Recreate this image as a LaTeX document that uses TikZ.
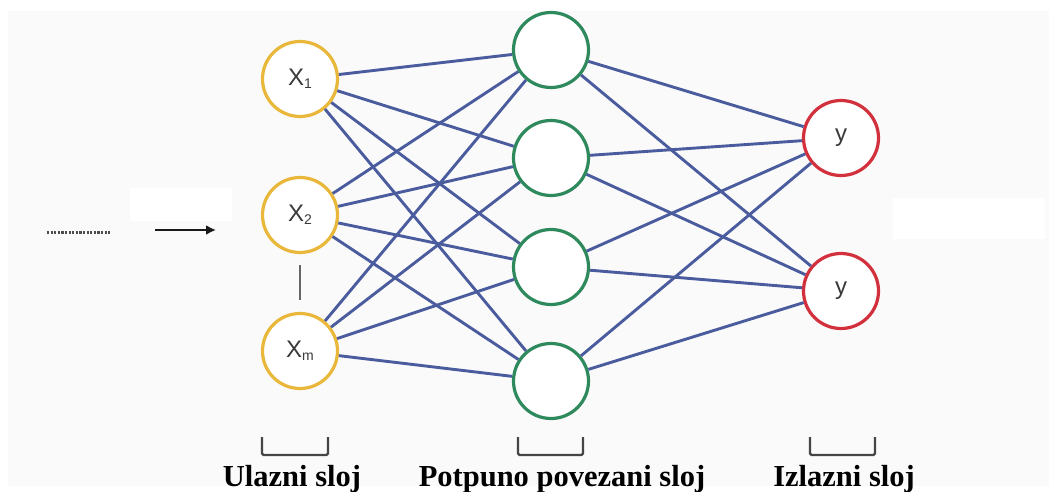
\documentclass[tikz,border=0pt]{standalone}
\usepackage{fontspec}
\setmainfont{Liberation Serif}
\newfontfamily\nodefont{Liberation Sans}
\usetikzlibrary{arrows.meta}
\definecolor{panel}{HTML}{FAFAFA}
\definecolor{gold}{HTML}{E9B83A}
\definecolor{grn}{HTML}{2E8A5C}
\definecolor{rd}{HTML}{D2303C}
\definecolor{edgeblue}{HTML}{4A5C9E}
\definecolor{txt}{HTML}{3A3A3A}
\definecolor{brk}{HTML}{454545}
\newcommand{\subs}[1]{\raisebox{-3pt}{\fontsize{14}{14}\selectfont #1}}
\begin{document}
\begin{tikzpicture}[x=1pt,y=-1pt,
  neuron/.style={circle, draw, line width=3.2pt, fill=white, minimum size=75pt, inner sep=0pt,
    font=\nodefont\fontsize{24}{24}\selectfont, text=txt},
  innode/.style={neuron, draw=gold},
  hidnode/.style={neuron, draw=grn},
  outnode/.style={neuron, draw=rd},
  conn/.style={draw=edgeblue, line width=2.9pt},
  bracket/.style={draw=brk, line width=2.2pt, rounded corners=1.5pt},
  lbl/.style={font=\bfseries\fontsize{30.5}{30.5}\selectfont, text=black, inner sep=0pt}
]
\useasboundingbox (0,0) rectangle (1049,492);
\fill[white] (0,0) rectangle (1049,492);
\fill[panel] (8,11) rectangle (1049,486);
\fill[white] (130,188) rectangle (232,221);
\fill[white] (893,198) rectangle (1045,239);

% connections (drawn first, nodes cover the ends)
\node[innode] (x1) at (300,79) {X\subs{1}};
\node[innode] (x2) at (300,215) {X\subs{2}};
\node[innode] (xm) at (300,351) {X\subs{m}};
\node[hidnode] (h1) at (551,50) {};
\node[hidnode] (h2) at (551,158) {};
\node[hidnode] (h3) at (551,267) {};
\node[hidnode] (h4) at (551,381) {};
\node[outnode] (y1) at (841,138) {y};
\node[outnode] (y2) at (841,291) {y};

\foreach \i in {x1,x2,xm}{
  \foreach \h in {h1,h2,h3,h4}{
    \draw[conn] (\i) -- (\h);
  }
}
\foreach \h in {h1,h2,h3,h4}{
  \foreach \o in {y1,y2}{
    \draw[conn] (\h) -- (\o);
  }
}

% vertical ellipsis line
\coordinate (va) at (300,265);
\coordinate (vb) at (300,300);
\draw[draw=gray!80!black, line width=1.4pt] (va) -- (vb);

% left dotted line and arrow
\coordinate (da) at (47,232);
\coordinate (db) at (110,232);
\draw[line width=3pt, draw=black!70, dash pattern=on 2.2pt off 1.4pt] (da) -- (db);
\coordinate (aa) at (155,230);
\coordinate (ab) at (216,230);
\draw[line width=2.4pt, draw=black!90, -{Latex[length=10pt,width=10pt]}] (aa) -- (ab);

% brackets
\draw[bracket] (262,437) -- (262,455) -- (328,455) -- (328,437);
\draw[bracket] (518,437) -- (518,455) -- (583,455) -- (583,437);
\draw[bracket] (810,437) -- (810,455) -- (875,455) -- (875,437);

% labels
\node[lbl, anchor=base] (l1) at (292,486) {Ulazni sloj};
\node[lbl, anchor=base] (l2) at (562,486) {Potpuno povezani sloj};
\node[lbl, anchor=base] (l3) at (844,486) {Izlazni sloj};
\end{tikzpicture}
\end{document}
